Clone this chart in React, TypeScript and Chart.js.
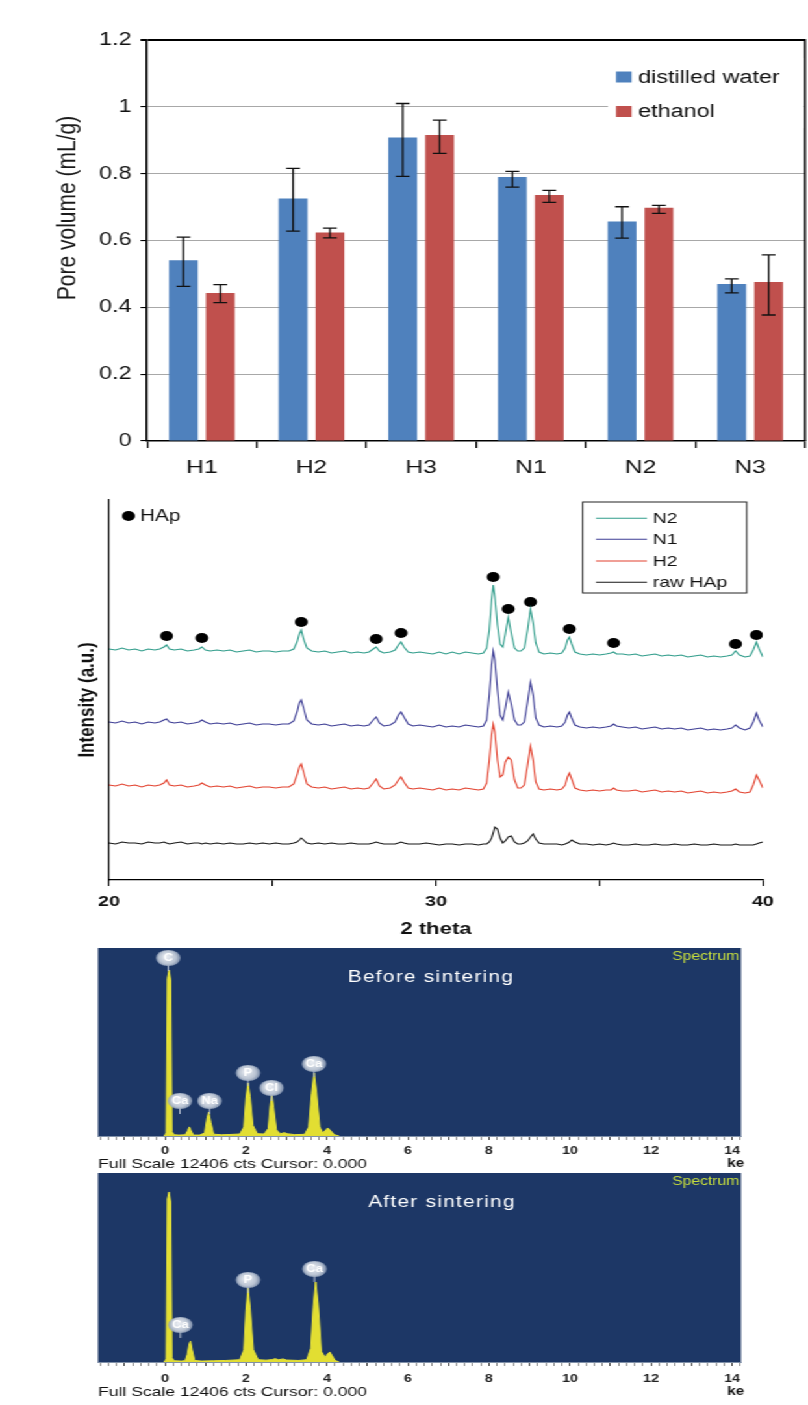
import React, { useEffect, useRef } from 'react';
import { Chart, registerables } from 'chart.js';

Chart.register(...registerables);

// ---------------- Pore volume bar chart ----------------
const samples = ['H1', 'H2', 'H3', 'N1', 'N2', 'N3'];
const seriesNames = ['distilled water', 'ethanol'];
const waterMean = [0.541, 0.726, 0.908, 0.79, 0.657, 0.47];
const waterLow = [0.463, 0.628, 0.792, 0.76, 0.607, 0.443];
const waterHigh = [0.61, 0.816, 1.01, 0.807, 0.701, 0.485];
const ethanolMean = [0.443, 0.624, 0.916, 0.736, 0.698, 0.476];
const ethanolLow = [0.414, 0.608, 0.861, 0.714, 0.681, 0.377];
const ethanolHigh = [0.468, 0.637, 0.96, 0.75, 0.705, 0.557];

// ---------------- XRD patterns ----------------
const xrdNames = ['N2', 'N1', 'H2', 'raw HAp'];
const twoTheta = [
  20.0, 20.2, 20.4, 20.6, 20.8, 21.0, 21.2, 21.4,
  21.55, 21.68, 21.76, 21.85,
  22.0, 22.2, 22.4, 22.6,
  22.75, 22.84, 22.95, 23.1,
  23.3, 23.5, 23.7, 23.9, 24.1, 24.3, 24.5, 24.7, 24.9, 25.1, 25.3,
  25.5, 25.65, 25.75, 25.82, 25.88, 25.95, 26.05,
  26.2, 26.4, 26.6, 26.8, 27.0, 27.2, 27.4, 27.6, 27.8,
  27.95, 28.08, 28.17, 28.27, 28.4,
  28.6, 28.75, 28.85, 28.93, 29.02, 29.15, 29.3,
  29.5, 29.7, 29.9, 30.1, 30.3, 30.5, 30.7, 30.9, 31.1,
  31.3, 31.45, 31.55, 31.63, 31.7, 31.75, 31.8,
  31.88, 31.96, 32.04, 32.12, 32.21,
  32.3, 32.4, 32.5, 32.6, 32.7, 32.8, 32.89,
  32.97, 33.05, 33.15, 33.3, 33.5,
  33.7, 33.85, 33.95, 34.02, 34.08, 34.15, 34.25,
  34.4, 34.6, 34.8, 35.0, 35.2,
  35.35, 35.43, 35.52, 35.7,
  35.9, 36.1, 36.3, 36.5, 36.7, 36.9, 37.1, 37.3, 37.5, 37.7, 37.9, 38.1, 38.3, 38.5, 38.7, 38.9,
  39.05, 39.16, 39.28, 39.45, 39.6, 39.7, 39.8, 39.88, 40.0,
];
const intN2 = [
  231, 230, 232, 230, 231, 229, 231, 230,
  231, 233, 235, 231,
  230, 231, 229, 230,
  231, 233, 230, 229,
  230, 229, 230, 228, 229, 230, 228, 229, 229, 228, 229,
  229, 231, 238, 246, 250, 241, 232,
  229, 228, 229, 227, 228, 229, 227, 228, 227,
  228, 231, 233, 229, 227,
  228, 230, 235, 238, 233, 228, 227,
  228, 227, 226, 228, 226, 228, 226, 228, 227,
  226, 227, 232, 250, 280, 295, 283,
  255, 236, 233, 246, 263,
  247, 232, 229, 229, 232, 250, 271,
  257, 237, 228, 226, 227,
  226, 227, 232, 240, 243, 236, 228,
  226, 225, 226, 225, 226,
  227, 228, 226, 226,
  225, 226, 224, 225, 226, 224, 225, 224, 225, 223, 224, 225, 223, 224, 223, 224,
  225, 229, 225, 223, 224, 230, 238, 231, 223,
];
const intN1 = [
  158, 157, 159, 157, 158, 156, 158, 157,
  158, 160, 161, 158,
  157, 158, 156, 157,
  158, 160, 158, 156,
  157, 156, 157, 155, 156, 157, 155, 156, 156, 155, 156,
  156, 159, 168, 177, 180, 172, 160,
  156, 155, 156, 154, 155, 156, 154, 155, 154,
  155, 160, 163, 157, 154,
  155, 158, 165, 168, 163, 156, 154,
  155, 154, 153, 155, 153, 154, 153, 155, 154,
  153, 154, 160, 185, 215, 229, 220,
  190, 165, 160, 172, 188,
  176, 160, 155, 155, 158, 178, 198,
  185, 162, 155, 153, 154,
  153, 154, 158, 165, 168, 162, 155,
  153, 152, 153, 152, 153,
  154, 156, 154, 153,
  152, 153, 151, 152, 153, 151, 152, 151, 152, 150, 151, 152, 150, 151, 150, 151,
  152, 155, 152, 150, 152, 158, 167, 160, 153,
];
const intH2 = [
  95, 94, 96, 94, 95, 93, 95, 94,
  95, 97, 100, 95,
  94, 95, 93, 94,
  95, 97, 95, 93,
  94, 93, 94, 92, 93, 94, 92, 93, 93, 92, 93,
  93, 96, 105, 113, 116, 108, 96,
  93, 92, 93, 91, 92, 93, 91, 92, 91,
  92, 97, 101, 94, 91,
  92, 95, 100, 103, 98, 92, 91,
  92, 91, 90, 92, 90, 91, 90, 92, 91,
  90, 91, 97, 120, 145, 156, 148,
  120, 103, 105, 118, 123,
  120, 100, 92, 92, 95, 115, 134,
  120, 98, 91, 90, 91,
  90, 91, 95, 103, 107, 101, 92,
  90, 89, 90, 89, 90,
  90, 92, 90, 89,
  89, 90, 88, 89, 90, 88, 89, 88, 89, 87, 88, 89, 87, 88, 87, 88,
  89, 91, 88, 87, 88, 95, 105, 100, 92,
];
const intRaw = [
  37, 36, 38, 37, 37, 36, 38, 37,
  37, 38, 37, 36,
  37, 38, 36, 37,
  37, 36, 37, 36,
  37, 36, 37, 36, 36, 37, 36, 37, 36, 37, 36,
  36, 37, 38, 40, 42, 40, 37,
  36, 37, 36, 37, 36, 36, 37, 36, 36,
  36, 37, 38, 37, 36,
  36, 36, 37, 38, 37, 36, 36,
  36, 37, 36, 35, 36, 36, 35, 36, 36,
  35, 36, 36, 38, 42, 47, 53,
  51, 42, 37, 39, 43,
  44, 38, 36, 36, 37, 39, 43,
  46, 41, 37, 36, 36,
  36, 35, 36, 37, 38, 40, 38,
  36, 36, 35, 36, 35,
  36, 37, 36, 35,
  35, 36, 35, 35, 36, 35, 35, 36, 35, 35, 36, 35, 35, 36, 35, 35,
  35, 36, 35, 35, 35, 35, 36, 37, 38,
];
const hapPeakTheta = [21.76, 22.84, 25.88, 28.17, 28.93, 31.75, 32.21, 32.89, 34.08, 35.43, 39.16, 39.8];
const hapMarkerLevel = [244, 242, 258, 241, 247, 303, 271, 278, 251, 237, 236, 245];

// ---------------- EDS spectra ----------------
const fullScaleCounts = 12406;
const beforeKeV = [-0.02, 0.03, 0.06, 0.1, 0.14, 0.17, 0.22, 0.35, 0.5, 0.56, 0.6, 0.64, 0.7, 0.85, 0.98, 1.04, 1.08, 1.13, 1.2, 1.4, 1.6, 1.85, 1.95, 2.0, 2.05, 2.1, 2.17, 2.28, 2.45, 2.55, 2.6, 2.64, 2.68, 2.75, 2.85, 2.95, 3.02, 3.2, 3.45, 3.55, 3.62, 3.68, 3.74, 3.82, 3.9, 3.97, 4.02, 4.08, 4.18, 4.3];
const beforeCounts = [0, 200, 10400, 10950, 10300, 300, 80, 60, 80, 350, 600, 380, 60, 60, 200, 1200, 1580, 900, 120, 80, 100, 130, 600, 2500, 3500, 2600, 700, 150, 130, 500, 2000, 2700, 1900, 400, 150, 220, 150, 90, 110, 600, 2800, 4160, 2900, 600, 200, 400, 530, 380, 90, 0];
const beforeLabels = ['C', 'Ca', 'Na', 'P', 'Cl', 'Ca'];
const beforeLabelKeV = [0.08, 0.37, 1.1, 2.05, 2.63, 3.68];
const beforeLabelCounts = [11746, 2310, 2310, 4157, 3167, 4751];
const afterKeV = [-0.02, 0.03, 0.06, 0.1, 0.14, 0.17, 0.22, 0.4, 0.5, 0.55, 0.6, 0.63, 0.67, 0.73, 0.9, 1.2, 1.5, 1.85, 1.95, 2.0, 2.05, 2.1, 2.18, 2.3, 2.5, 2.65, 2.72, 2.8, 2.92, 3.0, 3.3, 3.5, 3.6, 3.66, 3.72, 3.78, 3.86, 3.95, 4.02, 4.07, 4.12, 4.2, 4.3];
const afterCounts = [0, 200, 10700, 11160, 10500, 300, 80, 60, 90, 500, 1200, 1380, 800, 100, 60, 80, 100, 150, 800, 3400, 4860, 3600, 800, 150, 120, 160, 220, 150, 200, 130, 100, 150, 900, 3600, 5250, 3800, 700, 300, 550, 660, 450, 100, 0];
const afterLabels = ['Ca', 'P', 'Ca'];
const afterLabelKeV = [0.38, 2.05, 3.69];
const afterLabelCounts = [2429, 5383, 6105];

// ---------------- layout ----------------
const PAGE_W = 808;
const W = 622;
const S = PAGE_W / W; // horizontal stretch of the whole figure
const px = (pageX: number) => pageX / S;
const FONT = "'Liberation Sans', Arial, Helvetica, sans-serif";

function buildBar(canvas: HTMLCanvasElement) {
  const errPlugin = {
    id: 'errbars',
    afterDatasetsDraw(chart: any) {
      const ctx = chart.ctx;
      const ys = chart.scales.y;
      const lows = [waterLow, ethanolLow];
      const highs = [waterHigh, ethanolHigh];
      ctx.save();
      ctx.strokeStyle = '#111';
      ctx.lineWidth = 1.3;
      [0, 1].forEach((d) => {
        chart.getDatasetMeta(d).data.forEach((bar: any, i: number) => {
          const x = bar.x;
          const y1 = ys.getPixelForValue(lows[d][i]);
          const y2 = ys.getPixelForValue(highs[d][i]);
          const cap = 5.3;
          ctx.beginPath();
          ctx.moveTo(x, y1); ctx.lineTo(x, y2);
          ctx.moveTo(x - cap, y1); ctx.lineTo(x + cap, y1);
          ctx.moveTo(x - cap, y2); ctx.lineTo(x + cap, y2);
          ctx.stroke();
        });
      });
      ctx.restore();
    },
  };
  const decor = {
    id: 'decorBar',
    afterDraw(chart: any) {
      const ctx = chart.ctx;
      const a = chart.chartArea;
      ctx.save();
      ctx.strokeStyle = '#000';
      ctx.lineWidth = 1.5;
      ctx.beginPath();
      ctx.moveTo(a.right, a.top - 1);
      ctx.lineTo(a.right, a.bottom);
      ctx.stroke();
      ctx.fillStyle = '#fff';
      ctx.fillRect(px(608), 58, a.right - 1 - px(608), 70);
      const colors = ['#4f81bd', '#c0504d'];
      const ly = [77, 111.5];
      ctx.font = `18px ${FONT}`;
      ctx.textBaseline = 'middle';
      ctx.textAlign = 'left';
      seriesNames.forEach((n, i) => {
        ctx.fillStyle = colors[i];
        ctx.fillRect(px(616), ly[i] - 5.5, 12, 11);
        ctx.fillStyle = '#111';
        ctx.fillText(n, px(638), ly[i] + 1);
      });
      ctx.translate(px(68), 208);
      ctx.rotate(-Math.PI / 2);
      ctx.textAlign = 'center';
      ctx.font = `21px ${FONT}`;
      ctx.fillStyle = '#1a1a1a';
      ctx.fillText('Pore volume (mL/g)', 0, 0);
      ctx.restore();
    },
  };
  return new Chart(canvas, {
    type: 'bar',
    data: {
      labels: samples,
      datasets: [
        { label: seriesNames[0], data: waterMean, backgroundColor: '#4f81bd', borderWidth: 0 },
        { label: seriesNames[1], data: ethanolMean, backgroundColor: '#c0504d', borderWidth: 0 },
      ],
    },
    options: {
      responsive: true,
      maintainAspectRatio: false,
      animation: false,
      events: [],
      layout: { padding: { left: 0, right: W - px(805), top: 40, bottom: 0 } },
      plugins: { legend: { display: false }, tooltip: { enabled: false } },
      datasets: { bar: { categoryPercentage: 0.673, barPercentage: 0.78 } },
      scales: {
        x: {
          grid: { offset: true, drawOnChartArea: false, tickLength: 7, color: '#000', lineWidth: 1.3 },
          border: { color: '#000', width: 1.5 },
          ticks: { font: { family: FONT, size: 19 }, color: '#111', padding: 8 },
          afterFit: (s: any) => { s.height = 49; },
        },
        y: {
          min: 0,
          max: 1.2,
          ticks: {
            stepSize: 0.2,
            font: { family: FONT, size: 18 },
            color: '#111',
            padding: 7,
            callback: (v: any) => String(Math.round(Number(v) * 10) / 10),
          },
          grid: {
            color: (c: any) => {
              const v = c.tick ? c.tick.value : 0.5;
              return v >= 1.19 || v <= 0.001 ? '#000' : '#a8a8a8';
            },
            lineWidth: (c: any) => (c.tick && c.tick.value >= 1.19 ? 2 : 1.1),
            tickColor: '#000',
            tickLength: 5,
          },
          border: { color: '#000', width: 1.5 },
          afterFit: (s: any) => { s.width = px(147); },
        },
      },
    },
    plugins: [errPlugin, decor],
  } as any);
}

function buildXrd(canvas: HTMLCanvasElement) {
  const colors = ['#2f9c8a', '#3c3c94', '#e2412e', '#161616'];
  const series = [intN2, intN1, intH2, intRaw];
  const decor = {
    id: 'decorXrd',
    afterDraw(chart: any) {
      const ctx = chart.ctx;
      ctx.save();
      ctx.save();
      ctx.translate(px(87), 210);
      ctx.rotate(-Math.PI / 2);
      ctx.textAlign = 'center';
      ctx.textBaseline = 'middle';
      ctx.font = `bold 17px ${FONT}`;
      ctx.fillStyle = '#111';
      ctx.fillText('Intensity (a.u.)', 0, 0);
      ctx.restore();
      ctx.fillStyle = '#000';
      ctx.beginPath();
      ctx.arc(px(128.5), 26, 5, 0, Math.PI * 2);
      ctx.fill();
      ctx.font = `16px ${FONT}`;
      ctx.textBaseline = 'middle';
      ctx.textAlign = 'left';
      ctx.fillStyle = '#111';
      ctx.fillText('HAp', px(140), 27);
      ctx.strokeStyle = '#222';
      ctx.lineWidth = 1;
      ctx.strokeRect(px(582.7), 12, px(746.7) - px(582.7), 91);
      const ly = [28.3, 49.3, 71, 92.3];
      ctx.font = `15px ${FONT}`;
      xrdNames.forEach((n, i) => {
        ctx.strokeStyle = colors[i];
        ctx.lineWidth = 1.1;
        ctx.beginPath();
        ctx.moveTo(px(596), ly[i]);
        ctx.lineTo(px(647), ly[i]);
        ctx.stroke();
        ctx.fillStyle = '#111';
        ctx.fillText(n, px(652.7), ly[i] + 1);
      });
      ctx.restore();
    },
  };
  return new Chart(canvas, {
    type: 'line',
    data: {
      datasets: [
        ...series.map((ys, k) => ({
          label: xrdNames[k],
          data: twoTheta.map((x, i) => ({ x, y: ys[i] })),
          borderColor: colors[k],
          borderWidth: 1.1,
          pointRadius: 0,
          tension: 0,
          fill: false,
        })),
        {
          type: 'scatter',
          label: 'HAp',
          data: hapPeakTheta.map((x, i) => ({ x, y: hapMarkerLevel[i] })),
          backgroundColor: '#000',
          borderWidth: 0,
          pointRadius: 5,
        },
      ],
    },
    options: {
      responsive: true,
      maintainAspectRatio: false,
      animation: false,
      events: [],
      layout: { padding: { left: 0, right: W - px(763), top: 10, bottom: 0 } },
      plugins: { legend: { display: false }, tooltip: { enabled: false } },
      scales: {
        x: {
          type: 'linear',
          min: 20,
          max: 40,
          ticks: {
            stepSize: 5,
            autoSkip: false,
            maxRotation: 0,
            font: { family: FONT, size: 15, weight: 'bold' },
            color: '#111',
            padding: 7,
            callback: (v: any) => (Number(v) % 10 === 0 ? String(v) : ''),
          },
          grid: { drawOnChartArea: false, tickLength: 6, color: '#000', lineWidth: 1.1 },
          border: { color: '#000', width: 1.2 },
          title: { display: true, text: '2 theta', font: { family: FONT, size: 17, weight: 'bold' }, color: '#111', padding: { top: 0, bottom: 4 } },
          afterFit: (s: any) => { s.height = 64; },
        },
        y: {
          type: 'linear',
          min: 0,
          max: 380,
          ticks: { display: false },
          grid: { display: false },
          border: { color: '#000', width: 1.2 },
          afterFit: (s: any) => { s.width = px(109); },
        },
      },
    },
    plugins: [decor],
  } as any);
}

function buildEds(
  canvas: HTMLCanvasElement,
  keV: number[],
  counts: number[],
  labels: string[],
  labelKeV: number[],
  labelCounts: number[],
  title: string,
  titleX: number,
  titleY: number,
  spectrumY: number,
  top: number,
  bottom: number,
  height: number,
  tickPad: number,
) {
  const decor = {
    id: 'decorEds',
    beforeDraw(chart: any) {
      const ctx = chart.ctx;
      const a = chart.chartArea;
      ctx.save();
      ctx.fillStyle = '#1d3766';
      ctx.fillRect(a.left, a.top, a.right - a.left, a.bottom - a.top);
      ctx.restore();
    },
    afterDraw(chart: any) {
      const ctx = chart.ctx;
      const xs = chart.scales.x;
      const ys = chart.scales.y;
      ctx.save();
      labels.forEach((t, i) => {
        const x = xs.getPixelForValue(labelKeV[i]);
        const y = ys.getPixelForValue(labelCounts[i]);
        ctx.strokeStyle = '#b8c2d2';
        ctx.lineWidth = 1;
        ctx.beginPath();
        ctx.moveTo(x, y + 7);
        ctx.lineTo(x, y + 13);
        ctx.stroke();
        const g = ctx.createRadialGradient(x - 1.5, y - 1.5, 1, x, y, 9.5);
        g.addColorStop(0, '#e6eaf0');
        g.addColorStop(0.65, '#b9c3d2');
        g.addColorStop(1, 'rgba(140,156,182,0.8)');
        ctx.fillStyle = g;
        ctx.beginPath();
        ctx.ellipse(x, y, 9.5, 8, 0, 0, Math.PI * 2);
        ctx.fill();
        ctx.fillStyle = '#ffffff';
        ctx.font = `bold 10px ${FONT}`;
        ctx.textAlign = 'center';
        ctx.textBaseline = 'middle';
        ctx.fillText(t, x, y + 0.5);
      });
      ctx.textBaseline = 'middle';
      ctx.fillStyle = '#c6dd3e';
      ctx.font = `12px ${FONT}`;
      ctx.textAlign = 'right';
      ctx.fillText('Spectrum', px(739), spectrumY);
      ctx.fillStyle = '#ffffff';
      ctx.font = `16px ${FONT}`;
      ctx.textAlign = 'center';
      (ctx as any).letterSpacing = '1px';
      ctx.fillText(title, titleX, titleY);
      (ctx as any).letterSpacing = '0px';
      ctx.fillStyle = '#111';
      ctx.font = `13.5px ${FONT}`;
      ctx.textAlign = 'left';
      ctx.fillText('Full Scale 12406 cts Cursor: 0.000', px(98), 220);
      ctx.font = `bold 12px ${FONT}`;
      ctx.fillText('ke', px(727), 220);
      ctx.restore();
    },
  };
  return new Chart(canvas, {
    type: 'line',
    data: {
      datasets: [
        {
          label: title,
          data: keV.map((x, i) => ({ x, y: counts[i] })),
          borderColor: '#e6e23a',
          backgroundColor: '#e2de32',
          borderWidth: 1,
          pointRadius: 0,
          tension: 0,
          fill: 'origin',
        },
      ],
    },
    options: {
      responsive: true,
      maintainAspectRatio: false,
      animation: false,
      events: [],
      layout: { padding: { left: px(98), right: W - px(741), top, bottom: 0 } },
      plugins: { legend: { display: false }, tooltip: { enabled: false } },
      scales: {
        x: {
          type: 'linear',
          min: -1.654,
          max: 14.222,
          ticks: {
            stepSize: 0.2,
            autoSkip: false,
            includeBounds: false,
            maxRotation: 0,
            font: { family: FONT, size: 11, weight: 'bold' },
            color: '#222',
            padding: tickPad,
            callback: (v: any) => {
              const n = Number(v);
              const r = Math.round(n);
              return Math.abs(n - r) < 1e-6 && r >= 0 && r % 2 === 0 ? String(r) : '';
            },
          },
          grid: {
            drawOnChartArea: false,
            tickLength: 4,
            tickColor: (c: any) => {
              const n = c.tick ? c.tick.value : 0;
              return Math.abs(n - Math.round(n)) < 1e-6 ? '#444' : '#8c8c8c';
            },
            lineWidth: 1,
          },
          border: { color: '#8090a8', width: 1 },
          afterFit: (s: any) => { s.height = height - bottom; },
        },
        y: { display: false, min: 0, max: fullScaleCounts },
      },
    },
    plugins: [decor],
  } as any);
}

function Panel({ top, height, build }: { top: number; height: number; build: (c: HTMLCanvasElement) => Chart }) {
  const ref = useRef<HTMLCanvasElement>(null);
  useEffect(() => {
    const chart = build(ref.current as HTMLCanvasElement);
    return () => chart.destroy();
  }, []);
  return (
    <div style={{ position: 'absolute', left: 0, top, width: W, height }}>
      <canvas ref={ref} />
    </div>
  );
}

export default function App() {
  return (
    <div
      style={{
        position: 'absolute',
        left: 0,
        top: 0,
        width: W,
        height: 1405,
        transform: `scaleX(${S})`,
        transformOrigin: '0 0',
        background: '#fff',
      }}
    >
      <Panel top={0} height={490} build={buildBar} />
      <Panel top={490} height={454} build={buildXrd} />
      <Panel
        top={944}
        height={228}
        build={(c) =>
          buildEds(c, beforeKeV, beforeCounts, beforeLabels, beforeLabelKeV, beforeLabelCounts,
            'Before sintering', px(431), 34, 13, 4, 192, 228, 4)
        }
      />
      <Panel
        top={1172}
        height={230}
        build={(c) =>
          buildEds(c, afterKeV, afterCounts, afterLabels, afterLabelKeV, afterLabelCounts,
            'After sintering', px(442), 31, 10, 1, 190, 230, 6)
        }
      />
    </div>
  );
}
